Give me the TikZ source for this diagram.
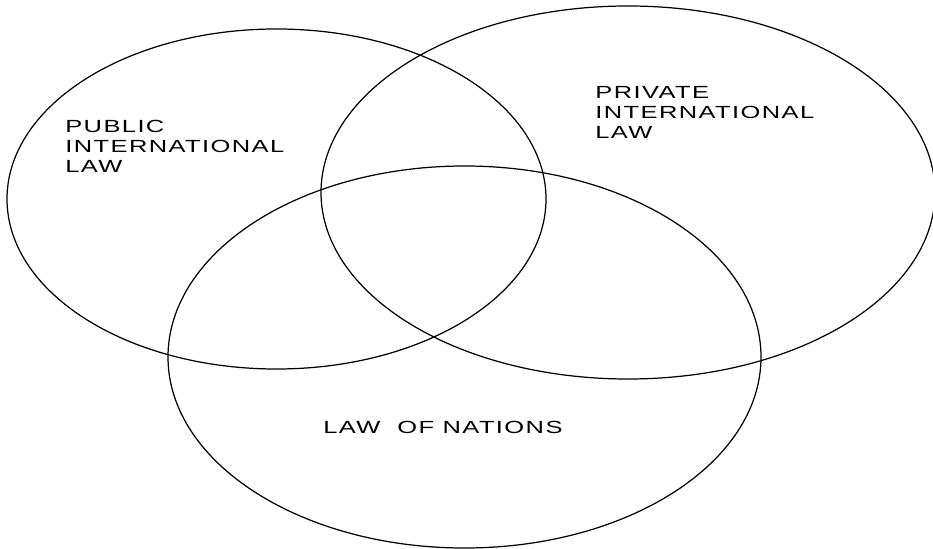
\documentclass[tikz,border=0pt]{standalone}
\usepackage{fontspec}
\usetikzlibrary{shapes.geometric}
\newfontfamily\lawfont[FakeStretch=1.45,LetterSpace=8]{Liberation Sans}

\begin{document}
\begin{tikzpicture}[
  field/.style={draw, ellipse, line width=0.7pt, inner sep=0pt},
  tag/.style={anchor=north west, inner sep=0pt, align=left, font=\lawfont\fontsize{10}{11.4}\selectfont}
]
\useasboundingbox (0,0) rectangle (18.66,-10.98);

\node[field, minimum width=10.78cm, minimum height=6.80cm] (public) at (5.53,-3.98) {};
\node[field, minimum width=12.28cm, minimum height=7.46cm] (private) at (12.56,-3.85) {};
\node[field, minimum width=11.86cm, minimum height=7.64cm] (nations) at (9.29,-7.14) {};

\node[tag] (publictext) at (1.30,-2.40) {PUBLIC\\INTERNATIONAL\\LAW};
\node[tag] (privatetext) at (11.90,-1.72) {PRIVATE\\INTERNATIONAL\\LAW};
\node[tag] (nationstext) at (6.46,-8.42) {LAW\ \ OF NATIONS};
\end{tikzpicture}
\end{document}
